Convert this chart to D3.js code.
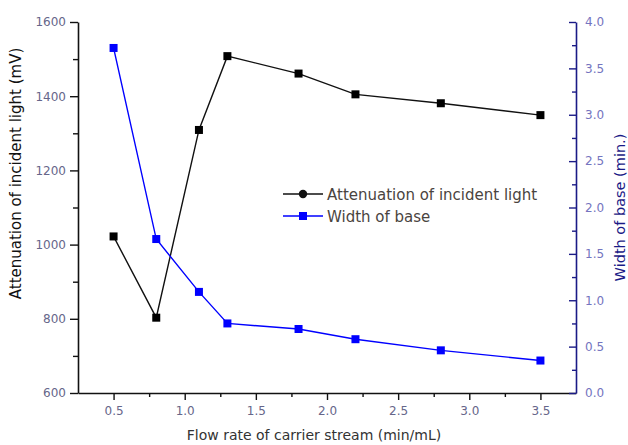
<!DOCTYPE html>
<html>
<head>
<meta charset="utf-8">
<script src="https://cdn.jsdelivr.net/npm/d3@7"></script>
<style>
  body { margin: 0; background: #fff; }
  svg { display: block; }
  text { font-family: "DejaVu Sans", "Liberation Sans", sans-serif; }
</style>
</head>
<body>
<svg id="chart" width="628" height="445"></svg>
<script>
// Flow rate of the carrier stream (x values)
const flowRate = [0.5, 0.8, 1.1, 1.3, 1.8, 2.2, 2.8, 3.5];
// Attenuation of incident light, mV (left axis)
const attenuation = [1022, 803, 1309, 1508, 1461, 1405, 1381, 1349];
// Width of base, min (right axis)
const baseWidth = [3.72, 1.66, 1.09, 0.75, 0.69, 0.58, 0.46, 0.35];

const xMajorTicks = [0.5, 1.0, 1.5, 2.0, 2.5, 3.0, 3.5];
const xMinorTicks = [0.75, 1.25, 1.75, 2.25, 2.75, 3.25];
const leftMajorTicks = [600, 800, 1000, 1200, 1400, 1600];
const leftMinorTicks = [700, 900, 1100, 1300, 1500];
const rightMajorTicks = [0, 0.5, 1.0, 1.5, 2.0, 2.5, 3.0, 3.5, 4.0];
const rightMinorTicks = [0.25, 0.75, 1.25, 1.75, 2.25, 2.75, 3.25, 3.75];

const seriesNames = ["Attenuation of incident light", "Width of base"];
const xTitle = "Flow rate of carrier stream (min/mL)";
const leftTitle = "Attenuation of incident light (mV)";
const rightTitle = "Width of base (min.)";

const svg = d3.select("#chart");
const plot = { left: 78, right: 576, top: 22, bottom: 393 };

const x = d3.scaleLinear().domain([0.25, 3.75]).range([plot.left, plot.right]);
const yLeft = d3.scaleLinear().domain([600, 1600]).range([plot.bottom, plot.top]);
const yRight = d3.scaleLinear().domain([0, 4]).range([plot.bottom, plot.top]);

const navy = "#1a1a86";
const tickLabelColor = "#66668a";
const rightLabelColor = "#7474c0";

function styleAxis(g, color, labelColor) {
  g.select(".domain").attr("stroke", color).attr("stroke-width", 1.6);
  g.selectAll(".tick line").attr("stroke", color).attr("stroke-width", 1.4);
  g.selectAll(".tick text").attr("fill", labelColor).attr("font-size", 12);
}

// Bottom axis
const gx = svg.append("g").attr("transform", `translate(0,${plot.bottom})`)
  .call(d3.axisBottom(x).tickValues(xMajorTicks).tickFormat(d3.format(".1f"))
    .tickSize(7).tickSizeOuter(0).tickPadding(6));
styleAxis(gx, "#111", tickLabelColor);
const gxMinor = svg.append("g").attr("transform", `translate(0,${plot.bottom})`)
  .call(d3.axisBottom(x).tickValues(xMinorTicks).tickFormat("").tickSize(4).tickSizeOuter(0));
gxMinor.select(".domain").remove();
gxMinor.selectAll(".tick line").attr("stroke", "#111").attr("stroke-width", 1.4);

// Left axis
const gl = svg.append("g").attr("transform", `translate(${plot.left},0)`)
  .call(d3.axisLeft(yLeft).tickValues(leftMajorTicks).tickFormat(d3.format("d"))
    .tickSize(8).tickSizeOuter(0).tickPadding(4));
styleAxis(gl, "#111", tickLabelColor);
const glMinor = svg.append("g").attr("transform", `translate(${plot.left},0)`)
  .call(d3.axisLeft(yLeft).tickValues(leftMinorTicks).tickFormat("").tickSize(5).tickSizeOuter(0));
glMinor.select(".domain").remove();
glMinor.selectAll(".tick line").attr("stroke", "#111").attr("stroke-width", 1.4);

// Right axis (ticks point into the plot)
const gr = svg.append("g").attr("transform", `translate(${plot.right},0)`)
  .call(d3.axisRight(yRight).tickValues(rightMajorTicks).tickFormat(d3.format(".1f"))
    .tickSize(-7).tickSizeOuter(0).tickPadding(9));
styleAxis(gr, navy, rightLabelColor);
const grMinor = svg.append("g").attr("transform", `translate(${plot.right},0)`)
  .call(d3.axisRight(yRight).tickValues(rightMinorTicks).tickFormat("").tickSize(-4).tickSizeOuter(0));
grMinor.select(".domain").remove();
grMinor.selectAll(".tick line").attr("stroke", navy).attr("stroke-width", 1.4);

// Axis titles
svg.append("text").attr("x", 314).attr("y", 440)
  .attr("text-anchor", "middle").attr("font-size", 14).attr("fill", "#333")
  .text(xTitle);
svg.append("text").attr("transform", `translate(21,${(plot.top + plot.bottom) / 2 - 34}) rotate(-90)`)
  .attr("text-anchor", "middle").attr("font-size", 15).attr("fill", "#111")
  .text(leftTitle);
svg.append("text").attr("transform", `translate(625,${(plot.top + plot.bottom) / 2}) rotate(-90)`)
  .attr("text-anchor", "middle").attr("font-size", 14.5).attr("fill", navy)
  .text(rightTitle);

// Series
const pts = flowRate.map((f, i) => ({ f, a: attenuation[i], w: baseWidth[i] }));
const ms = 8;

svg.append("path").datum(pts)
  .attr("fill", "none").attr("stroke", "#111").attr("stroke-width", 1.4)
  .attr("d", d3.line().x(d => x(d.f)).y(d => yLeft(d.a)));
svg.append("g").selectAll("rect").data(pts).join("rect")
  .attr("x", d => x(d.f) - ms / 2).attr("y", d => yLeft(d.a) - ms / 2)
  .attr("width", ms).attr("height", ms).attr("fill", "#000");

svg.append("path").datum(pts)
  .attr("fill", "none").attr("stroke", "#0000ff").attr("stroke-width", 1.4)
  .attr("d", d3.line().x(d => x(d.f)).y(d => yRight(d.w)));
svg.append("g").selectAll("rect").data(pts).join("rect")
  .attr("x", d => x(d.f) - ms / 2).attr("y", d => yRight(d.w) - ms / 2)
  .attr("width", ms).attr("height", ms).attr("fill", "#0000ff");

// Legend
const legend = svg.append("g").attr("transform", "translate(283,194)");
const legendRows = [
  { name: seriesNames[0], color: "#111", shape: "circle" },
  { name: seriesNames[1], color: "#0000ff", shape: "square" }
];
legendRows.forEach((r, i) => {
  const g = legend.append("g").attr("transform", `translate(0,${i * 22})`);
  g.append("line").attr("x1", 0).attr("x2", 40).attr("y1", 0).attr("y2", 0)
    .attr("stroke", r.color).attr("stroke-width", 1.4);
  if (r.shape === "circle") {
    g.append("circle").attr("cx", 20).attr("cy", 0).attr("r", 4.2).attr("fill", r.color);
  } else {
    g.append("rect").attr("x", 16).attr("y", -4).attr("width", 8).attr("height", 8).attr("fill", r.color);
  }
  g.append("text").attr("x", 44).attr("y", 5.5).attr("font-size", 15).attr("fill", "#4a4440")
    .text(r.name);
});
</script>
</body>
</html>
